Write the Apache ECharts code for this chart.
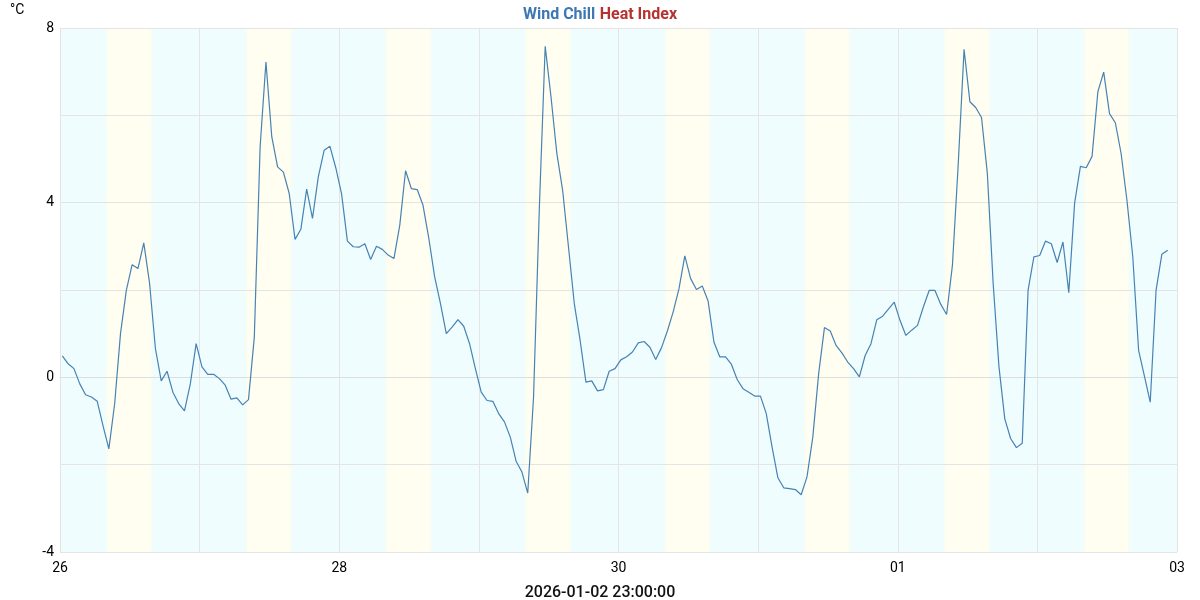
<!DOCTYPE html>
<html>
<head>
<meta charset="utf-8">
<script src="https://cdn.jsdelivr.net/npm/echarts@6/dist/echarts.min.js"></script>
<style>
  html, body { margin: 0; padding: 0; background: #ffffff; }
  #chart { width: 1200px; height: 600px; }
</style>
</head>
<body>
<div id="chart"></div>
<script>
// ---- data ----
const seriesName = 'Wind Chill';
const titleParts = ['Wind Chill', 'Heat Index'];
const unitLabel = '°C';
const footerLabel = '2026-01-02 23:00:00';
const axisStart = '2025-12-26T00:00:00Z';
const axisEnd = '2026-01-03T00:00:00Z';
const firstSample = '2025-12-26T00:24:00Z';   // hourly samples
const windChill = [
  0.49, 0.31, 0.20, -0.15, -0.40, -0.45, -0.55, -1.11, -1.64, -0.60,
  1.00, 1.99, 2.58, 2.49, 3.08, 2.15, 0.66, -0.08, 0.14, -0.34,
  -0.60, -0.77, -0.15, 0.77, 0.24, 0.07, 0.07, -0.03, -0.18, -0.50,
  -0.47, -0.63, -0.51, 0.92, 5.28, 7.22, 5.51, 4.82, 4.70, 4.21,
  3.16, 3.39, 4.31, 3.64, 4.59, 5.20, 5.29, 4.80, 4.20, 3.12,
  2.99, 2.98, 3.06, 2.70, 3.00, 2.93, 2.80, 2.72, 3.48, 4.73,
  4.32, 4.30, 3.94, 3.18, 2.30, 1.69, 1.00, 1.15, 1.32, 1.17,
  0.77, 0.20, -0.34, -0.53, -0.55, -0.83, -1.02, -1.37, -1.92, -2.17,
  -2.65, -0.45, 3.90, 7.58, 6.42, 5.13, 4.28, 2.99, 1.69, 0.85,
  -0.11, -0.08, -0.31, -0.28, 0.14, 0.20, 0.40, 0.47, 0.58, 0.79,
  0.82, 0.69, 0.41, 0.68, 1.06, 1.50, 2.03, 2.78, 2.26, 2.01,
  2.09, 1.75, 0.81, 0.47, 0.47, 0.30, -0.05, -0.26, -0.34, -0.43,
  -0.43, -0.83, -1.60, -2.30, -2.53, -2.55, -2.57, -2.69, -2.28, -1.37,
  0.08, 1.14, 1.06, 0.73, 0.56, 0.35, 0.20, 0.01, 0.50, 0.77,
  1.32, 1.40, 1.56, 1.72, 1.30, 0.96, 1.08, 1.19, 1.61, 1.99,
  1.99, 1.67, 1.44, 2.57, 4.89, 7.51, 6.31, 6.18, 5.95, 4.67,
  2.15, 0.24, -0.95, -1.40, -1.61, -1.51, 1.99, 2.76, 2.79, 3.12,
  3.06, 2.63, 3.10, 1.94, 3.99, 4.83, 4.80, 5.06, 6.54, 6.99,
  6.04, 5.83, 5.12, 4.05, 2.76, 0.62, 0.03, -0.57, 1.99, 2.82,
  2.91
];
const dayDates = ['2025-12-26','2025-12-27','2025-12-28','2025-12-29','2025-12-30','2025-12-31','2026-01-01','2026-01-02'];
const sunrise = '07:50';
const sunset = '15:55';
const yMin = -4, yMax = 8, yStep = 2, yLabelStep = 4;

// ---- build ----
const HOUR = 3600000, DAY = 86400000;
const xMin = Date.parse(axisStart);
const xMax = Date.parse(axisEnd);
const t0 = Date.parse(firstSample);
const lineData = windChill.map((v, i) => [t0 + i * HOUR, v]);

const nightColor = '#effdfe';
const dayGradient = {
  type: 'linear', x: 0, y: 0, x2: 1, y2: 0,
  colorStops: [
    { offset: 0, color: '#f3fdf6' },
    { offset: 0.07, color: '#fffef0' },
    { offset: 0.93, color: '#fffef0' },
    { offset: 1, color: '#f3fdf6' }
  ]
};
const areas = [[{ xAxis: xMin, itemStyle: { color: nightColor } }, { xAxis: xMax }]];
dayDates.forEach(d => {
  areas.push([
    { xAxis: Date.parse(d + 'T' + sunrise + ':00Z'), itemStyle: { color: dayGradient } },
    { xAxis: Date.parse(d + 'T' + sunset + ':00Z') }
  ]);
});

const chart = echarts.init(document.getElementById('chart'), null, { renderer: 'canvas' });
const font = 'Roboto, "Noto Sans", sans-serif';
chart.setOption({
  animation: false,
  backgroundColor: '#ffffff',
  textStyle: { fontFamily: font },
  title: {
    text: '{a|' + titleParts[0] + '} {b|' + titleParts[1] + '}',
    left: 'center', top: 1,
    textStyle: {
      rich: {
        a: { color: '#3b78b4', fontSize: 16, fontWeight: 'bold', fontFamily: font },
        b: { color: '#b5322f', fontSize: 16, fontWeight: 'bold', fontFamily: font }
      }
    }
  },
  graphic: [
    { type: 'text', left: 10, top: 3, style: { text: unitLabel, fontSize: 14, fill: '#000', fontFamily: font } },
    { type: 'text', left: 'center', top: 585, style: { text: footerLabel, fontSize: 16, fontWeight: 500, fill: '#111', fontFamily: font } }
  ],
  grid: { left: 60, right: 23, top: 28, bottom: 48, containLabel: false },
  xAxis: {
    type: 'value', z: 2,
    min: xMin, max: xMax, interval: DAY,
    axisLine: { show: true, lineStyle: { color: '#dddddd' } },
    axisTick: { show: false },
    axisLabel: {
      color: '#000', fontSize: 14, margin: 9, fontFamily: font,
      formatter: v => {
        const k = Math.round((v - xMin) / DAY);
        if (k % 2 !== 0) return '';
        const d = new Date(v).getUTCDate();
        return (d < 10 ? '0' : '') + d;
      }
    },
    splitLine: { show: true, lineStyle: { color: '#e4e4e4', width: 1 } }
  },
  yAxis: {
    type: 'value', z: 2,
    min: yMin, max: yMax, interval: yStep,
    axisLine: { show: true, lineStyle: { color: '#e4e4e4' } },
    axisTick: { show: false },
    axisLabel: {
      color: '#000', fontSize: 14, margin: 6, fontFamily: font,
      padding: [4, 0, 0, 0],
      formatter: v => (Math.round(v) % yLabelStep === 0 ? String(v) : '')
    },
    splitLine: { show: true, lineStyle: { color: '#e4e4e4', width: 1 } }
  },
  series: [
    {
      name: 'bands',
      type: 'line',
      data: [],
      z: 1,
      silent: true,
      markArea: { silent: true, data: areas }
    },
    {
      name: seriesName,
      type: 'line',
      data: lineData,
      showSymbol: false,
      lineStyle: { color: '#4682b4', width: 1.2 },
      itemStyle: { color: '#4682b4' },
      z: 3
    }
  ]
});
</script>
</body>
</html>
